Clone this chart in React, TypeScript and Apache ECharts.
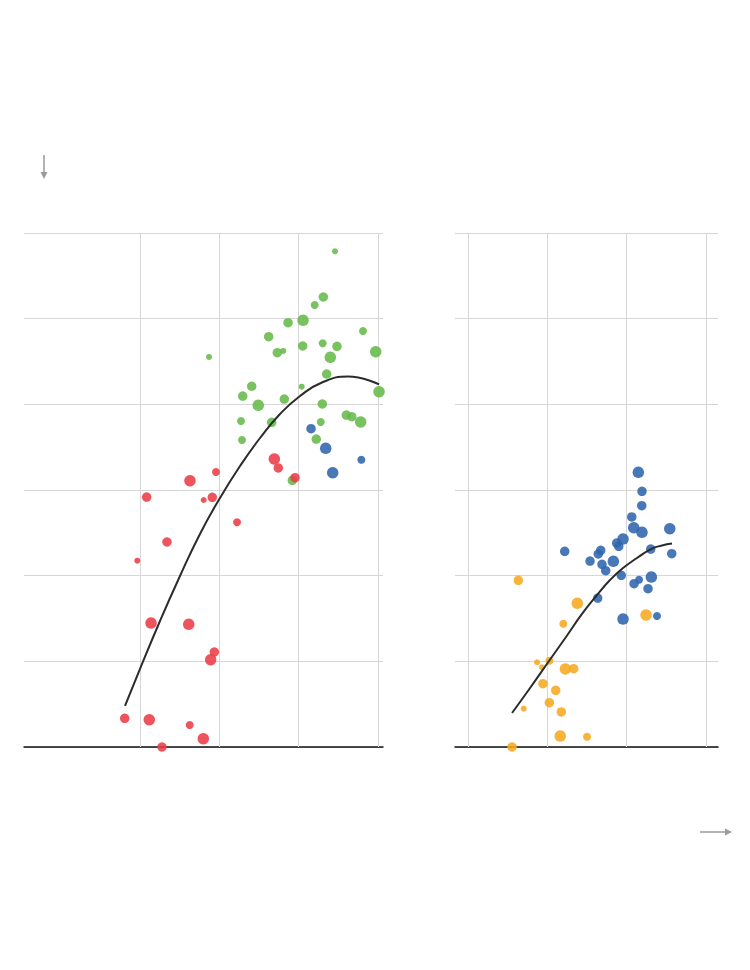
import React, { useEffect, useRef } from "react";
import * as echarts from "echarts";

// [x, y, sizeClass]
const leftGreen: number[][] = [
  [3.458, 5.786, 1], [3.311, 5.253, 3], [3.202, 5.16, 2], [3.055, 4.981, 4],
  [2.866, 4.953, 3], [2.622, 4.79, 3], [3.811, 4.856, 2], [2.731, 4.603, 3],
  [2.806, 4.623, 1], [3.051, 4.681, 3], [3.303, 4.712, 2], [3.483, 4.677, 3],
  [3.399, 4.549, 4], [3.971, 4.614, 4], [1.87, 4.553, 1], [3.353, 4.354, 3],
  [2.408, 4.211, 3], [2.295, 4.097, 3], [2.491, 3.989, 4], [2.819, 4.062, 3],
  [3.038, 4.206, 1], [4.013, 4.148, 4], [3.298, 4.004, 3], [2.273, 3.805, 2],
  [2.66, 3.79, 3], [3.601, 3.875, 3], [3.669, 3.856, 3], [3.782, 3.794, 4],
  [3.278, 3.794, 2], [2.286, 3.584, 2], [3.222, 3.595, 3], [2.92, 3.113, 3],
];
const leftBlue: number[][] = [
  [3.156, 3.716, 3], [3.341, 3.487, 4], [3.79, 3.354, 2], [3.429, 3.202, 4],
];
const leftRed: number[][] = [
  [2.693, 3.362, 4], [2.743, 3.257, 3], [2.954, 3.144, 3], [1.958, 3.21, 2],
  [1.63, 3.109, 4], [1.084, 2.918, 3], [1.803, 2.883, 1], [1.911, 2.915, 3],
  [2.223, 2.623, 2], [1.34, 2.393, 3], [0.966, 2.175, 1], [1.139, 1.447, 4],
  [1.614, 1.432, 4], [1.937, 1.109, 3], [1.891, 1.019, 4], [0.807, 0.335, 3],
  [1.117, 0.319, 4], [1.626, 0.257, 2], [1.798, 0.097, 4], [1.277, 0.0, 3],
];
const leftCurve: number[][] = [
  [0.811, 0.479], [1.0, 0.911], [1.252, 1.471], [1.504, 1.996], [1.756, 2.487],
  [2.008, 2.907], [2.261, 3.28], [2.513, 3.607], [2.765, 3.887], [3.017, 4.097],
  [3.294, 4.255], [3.622, 4.325], [4.013, 4.232],
];
const rightBlue: number[][] = [
  [3.147, 3.207, 4], [3.193, 2.985, 3], [3.19, 2.817, 3], [3.064, 2.685, 3],
  [3.089, 2.56, 4], [3.193, 2.506, 4], [3.543, 2.548, 4], [2.954, 2.428, 4],
  [2.874, 2.381, 3], [2.9, 2.343, 3], [3.303, 2.311, 3], [3.568, 2.256, 3],
  [2.219, 2.284, 3], [2.673, 2.296, 3], [2.642, 2.253, 3], [2.538, 2.171, 3],
  [2.689, 2.133, 3], [2.832, 2.168, 4], [2.736, 2.058, 3], [2.932, 2.004, 3],
  [3.156, 1.953, 2], [3.093, 1.906, 3], [3.311, 1.984, 4], [3.269, 1.848, 3],
  [2.635, 1.739, 3], [2.954, 1.494, 4], [3.382, 1.529, 2],
];
const rightOrange: number[][] = [
  [1.634, 1.946, 3], [2.378, 1.677, 4], [3.244, 1.541, 4], [2.201, 1.439, 2],
  [1.87, 0.989, 1], [2.025, 1.007, 2], [1.933, 0.93, 1], [2.227, 0.911, 4],
  [2.332, 0.914, 3], [1.945, 0.739, 3], [2.106, 0.662, 3], [2.025, 0.517, 3],
  [1.702, 0.447, 1], [2.176, 0.409, 3], [2.163, 0.128, 4], [2.5, 0.12, 2],
  [1.555, 0.0, 3],
];
const rightCurve: number[][] = [
  [1.555, 0.397], [1.782, 0.689], [2.021, 1.004], [2.235, 1.284], [2.437, 1.553],
  [2.626, 1.774], [2.79, 1.949], [2.954, 2.089], [3.13, 2.206], [3.307, 2.311],
  [3.445, 2.352], [3.571, 2.375],
];
const verticalTicks = [1, 2, 3, 4];

const SIZES = [6, 8, 9.5, 11.5];
const GRID = "#d6d6d6";

export default function App() {
  const ref = useRef<HTMLDivElement>(null);
  useEffect(() => {
    if (!ref.current) return;
    const chart = echarts.init(ref.current, null, { renderer: "svg" });
    const sizeFn = (v: number[]) => SIZES[v[2] - 1];
    const yAx = (gi: number) => ({
      type: "value", gridIndex: gi, min: 0, max: 6, interval: 1,
      axisLine: { show: false }, axisTick: { show: false }, axisLabel: { show: false },
      splitLine: { show: true, lineStyle: { color: GRID, width: 1 } },
    });
    const xAx = (gi: number, min: number, max: number) => ({
      type: "value", gridIndex: gi, min, max,
      axisLine: { show: true, onZero: false, lineStyle: { color: "#111", width: 1.5 } },
      axisTick: { show: false }, axisLabel: { show: false }, splitLine: { show: false },
    });
    const scatter = (data: number[][], color: string, gi: number) => ({
      type: "scatter", xAxisIndex: gi, yAxisIndex: gi, data,
      symbolSize: sizeFn, z: 2,
      itemStyle: { color, opacity: 0.88 }, silent: true,
    });
    const curve = (data: number[][], gi: number) => ({
      type: "line", xAxisIndex: gi, yAxisIndex: gi, data, smooth: 0.5,
      showSymbol: false, symbol: "none", z: 4, silent: true,
      lineStyle: { color: "#2b2b2b", width: 2 },
      markLine: {
        silent: true, symbol: "none", z: 1, animation: false,
        label: { show: false },
        lineStyle: { color: GRID, width: 1, type: "solid" },
        data: verticalTicks.map((v) => ({ xAxis: v })),
      },
    });
    chart.setOption({
      animation: false,
      backgroundColor: "#fff",
      grid: [
        { left: 24, top: 233, width: 359, height: 514 },
        { left: 455, top: 233, width: 263, height: 514 },
      ],
      xAxis: [xAx(0, -0.4622, 4.063), xAx(1, 0.8361, 4.151)],
      yAxis: [yAx(0), yAx(1)],
      series: [
        scatter(leftGreen, "#66b94a", 0),
        scatter(leftBlue, "#2f65ad", 0),
        scatter(leftRed, "#ec3c48", 0),
        curve(leftCurve, 0),
        scatter(rightBlue, "#2f65ad", 1),
        scatter(rightOrange, "#f6a91f", 1),
        curve(rightCurve, 1),
      ],
      graphic: [
        { type: "line", shape: { x1: 44, y1: 155, x2: 44, y2: 173 }, style: { stroke: "#9a9a9a", lineWidth: 1.5 } },
        { type: "polygon", shape: { points: [[40.5, 172], [47.5, 172], [44, 179]] }, style: { fill: "#9a9a9a" } },
        { type: "line", shape: { x1: 700, y1: 832, x2: 726, y2: 832 }, style: { stroke: "#9a9a9a", lineWidth: 1.5 } },
        { type: "polygon", shape: { points: [[725, 828.5], [725, 835.5], [732, 832]] }, style: { fill: "#9a9a9a" } },
      ],
    });
    return () => chart.dispose();
  }, []);
  return (
    <div
      ref={ref}
      style={{ position: "absolute", left: 0, top: 0, width: 750, height: 970 }}
    />
  );
}
